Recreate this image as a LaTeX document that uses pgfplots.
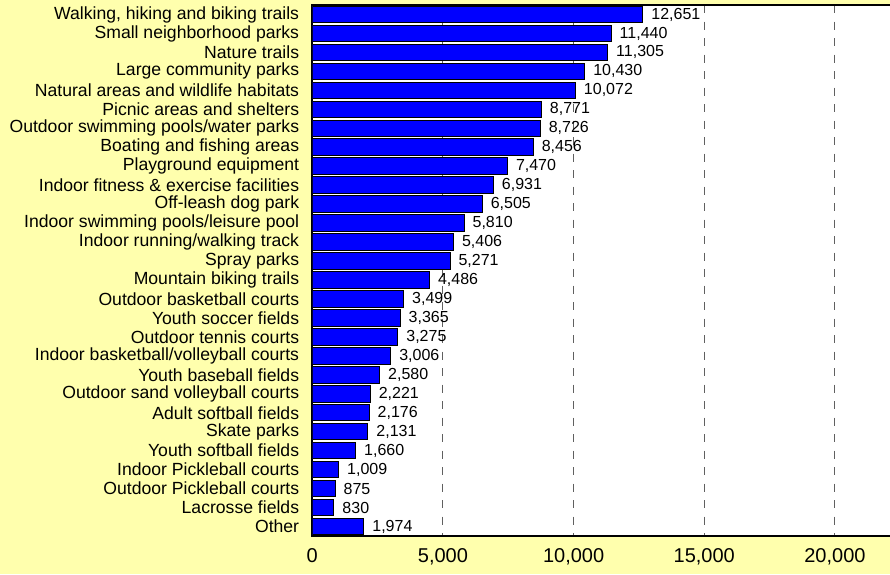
\documentclass[border=0pt]{standalone}
\usepackage{fontspec}
\setmainfont{Liberation Sans}
\usepackage{pgfplots}
\pgfplotsset{compat=1.18}
\definecolor{bgyellow}{HTML}{FFFFAD}
\definecolor{barblue}{HTML}{0000FF}
\definecolor{gridgray}{HTML}{606060}

\pgfplotstableread[col sep=semicolon]{
pos;val
0;12651
1;11440
2;11305
3;10430
4;10072
5;8771
6;8726
7;8456
8;7470
9;6931
10;6505
11;5810
12;5406
13;5271
14;4486
15;3499
16;3365
17;3275
18;3006
19;2580
20;2221
21;2176
22;2131
23;1660
24;1009
25;875
26;830
27;1974
}\facilities

\begin{document}
\begin{tikzpicture}
\fill[bgyellow] (0,0) rectangle (890pt,574pt);
\begin{axis}[
  at={(312.3pt,38pt)}, anchor=south west,
  scale only axis,
  width=580pt, height=531pt,
  xmin=0, xmax=22196,
  ymin=-0.5, ymax=27.5,
  y dir=reverse,
  axis background/.style={fill=white},
  axis line style={black, line width=2pt},
  xbar, bar width=16.5pt,
  xtick={0,5000,10000,15000,20000},
  scaled x ticks=false,
  ytick={0,...,27},
  yticklabels={
    {Walking, hiking and biking trails},
    Small neighborhood parks,
    Nature trails,
    Large community parks,
    Natural areas and wildlife habitats,
    Picnic areas and shelters,
    Outdoor swimming pools/water parks,
    Boating and fishing areas,
    Playground equipment,
    Indoor fitness \& exercise facilities,
    Off-leash dog park,
    Indoor swimming pools/leisure pool,
    Indoor running/walking track,
    Spray parks,
    Mountain biking trails,
    Outdoor basketball courts,
    Youth soccer fields,
    Outdoor tennis courts,
    Indoor basketball/volleyball courts,
    Youth baseball fields,
    Outdoor sand volleyball courts,
    Adult softball fields,
    Skate parks,
    Youth softball fields,
    Indoor Pickleball courts,
    Outdoor Pickleball courts,
    Lacrosse fields,
    Other},
  major tick length=0pt,
  xmajorgrids,
  major grid style={gridgray, line width=1pt, dash pattern=on 8pt off 8.5pt},
  /pgf/number format/.cd, 1000 sep={,}, assume math mode=true,
  /pgfplots/.cd,
  yticklabel style={font=\fontsize{17.6}{18}\selectfont, inner sep=0pt, xshift=-13pt},
  xticklabel style={font=\fontsize{20}{20}\selectfont, inner sep=0pt, yshift=-12pt},
  nodes near coords,
  point meta=x,
  every node near coord/.append style={font=\fontsize{16}{16}\selectfont, anchor=west, inner sep=0pt, xshift=8pt, black},
]
\addplot[fill=barblue, draw=black, line width=1pt] table[x=val, y=pos] {\facilities};
\end{axis}
\pgfresetboundingbox
\useasboundingbox (0,0) rectangle (890pt,574pt);
\end{tikzpicture}
\end{document}
